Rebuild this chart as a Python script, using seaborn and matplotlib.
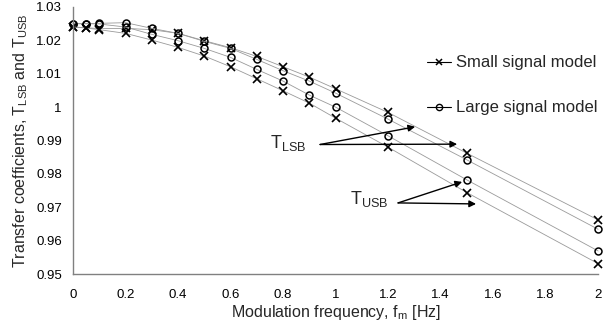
import matplotlib
matplotlib.use("Agg")
import matplotlib.pyplot as plt
import seaborn as sns
import pandas as pd
from matplotlib.lines import Line2D
from matplotlib.ticker import FuncFormatter, MultipleLocator

freq = [0, 0.05, 0.1, 0.2, 0.3, 0.4, 0.5, 0.6, 0.7, 0.8, 0.9, 1.0, 1.2, 1.5, 2.0]
lsb_small = [1.0240, 1.0238, 1.0235, 1.0236, 1.0232, 1.0221, 1.0199, 1.0178, 1.0152, 1.0121, 1.0090, 1.0055, 0.9984, 0.9862, 0.9662]
lsb_large = [1.0250, 1.0250, 1.0251, 1.0253, 1.0236, 1.0221, 1.0197, 1.0176, 1.0143, 1.0109, 1.0078, 1.0042, 0.9964, 0.9842, 0.9634]
usb_large = [1.0250, 1.0250, 1.0249, 1.0240, 1.0218, 1.0199, 1.0176, 1.0149, 1.0113, 1.0078, 1.0036, 1.0000, 0.9914, 0.9782, 0.9569]
usb_small = [1.0240, 1.0237, 1.0232, 1.0221, 1.0201, 1.0179, 1.0153, 1.0121, 1.0085, 1.0049, 1.0012, 0.9967, 0.9880, 0.9744, 0.9531]

legend_labels = ["Small signal model", "Large signal model"]

sns.set_style("white")
plt.rcParams['font.family'] = ['Liberation Sans', 'DejaVu Sans']

fig = plt.figure(figsize=(6.16, 3.28), dpi=100)
ax = fig.add_axes([0.1185, 0.1646, 0.8525, 0.8141])

series = [(lsb_small, 'x'), (lsb_large, 'o'), (usb_large, 'o'), (usb_small, 'x')]
for vals, mk in series:
    df = pd.DataFrame({"f": freq, "T": vals})
    if mk == 'x':
        kw = dict(marker='x', markersize=5.5, markeredgewidth=1.2, markeredgecolor='black')
    else:
        kw = dict(marker='o', markersize=5, markeredgewidth=1.1, markeredgecolor='black',
                  markerfacecolor='none')
    sns.lineplot(data=df, x="f", y="T", ax=ax, color='#9a9a9a', linewidth=0.6, **kw)

ax.set_xlim(0, 2)
ax.set_ylim(0.95, 1.03)
ax.xaxis.set_major_locator(MultipleLocator(0.2))
ax.yaxis.set_major_locator(MultipleLocator(0.01))
fmt = FuncFormatter(lambda v, p: f"{round(v, 4):g}")
ax.xaxis.set_major_formatter(fmt)
ax.yaxis.set_major_formatter(fmt)

for s in ['top', 'right']:
    ax.spines[s].set_visible(False)
for s in ['left', 'bottom']:
    ax.spines[s].set_color('#808080')
    ax.spines[s].set_linewidth(1.0)
ax.tick_params(axis='both', which='major', direction='out', length=3, width=0.8,
               color='#808080', labelsize=9.5, labelcolor='black')
ax.tick_params(axis='x', pad=8)
ax.tick_params(axis='y', pad=5)

ax.set_xlabel(r"Modulation frequency, f$_\mathregular{m}$ [Hz]", fontsize=11.5, labelpad=1)
ax.set_ylabel(r"Transfer coefficients, T$_\mathregular{LSB}$ and T$_\mathregular{USB}$", fontsize=11.5, labelpad=4)

handles = [Line2D([], [], color='black', lw=0.8, marker='x', markersize=5, markeredgewidth=1.1),
           Line2D([], [], color='black', lw=0.8, marker='o', markersize=4.5, markeredgewidth=1.0,
                  markerfacecolor='none')]
ax.legend(handles, legend_labels, loc='upper left', bbox_to_anchor=(0.645, 0.875),
          frameon=False, fontsize=12, labelspacing=1.8, handlelength=1.45, handletextpad=0.3)

# annotations
arrow = dict(arrowstyle='-|>', color='black', lw=1.0, mutation_scale=10, shrinkA=0, shrinkB=0)
ax.text(0.75, 0.9894, r"T$_\mathregular{LSB}$", fontsize=13, ha='left', va='center')
ax.annotate("", xy=(1.303, 0.9941), xytext=(0.941, 0.9888), arrowprops=arrow)
ax.annotate("", xy=(1.463, 0.9889), xytext=(0.941, 0.9888), arrowprops=arrow)
ax.text(1.055, 0.9725, r"T$_\mathregular{USB}$", fontsize=13, ha='left', va='center')
ax.annotate("", xy=(1.482, 0.9776), xytext=(1.238, 0.9713), arrowprops=arrow)
ax.annotate("", xy=(1.535, 0.9710), xytext=(1.238, 0.9713), arrowprops=arrow)

for line in ax.lines:
    line.set_clip_on(False)

fig.savefig("out.png", dpi=100)
